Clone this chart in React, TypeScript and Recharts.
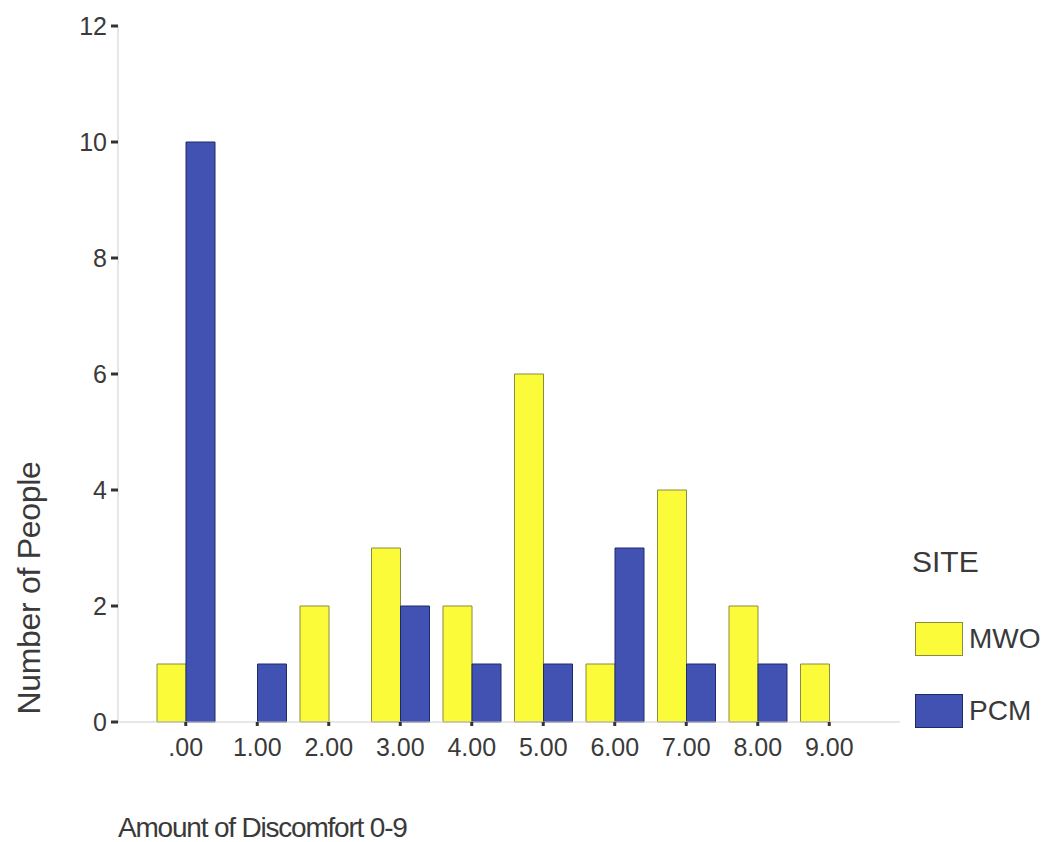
import { BarChart, Bar, XAxis, YAxis } from "recharts"

const categories = [".00", "1.00", "2.00", "3.00", "4.00", "5.00", "6.00", "7.00", "8.00", "9.00"]
const mwoValues = [1, 0, 2, 3, 2, 6, 1, 4, 2, 1]
const pcmValues = [10, 1, 0, 2, 1, 1, 3, 1, 1, 0]
const yTicks = [0, 2, 4, 6, 8, 10, 12]
const seriesNames = ["MWO", "PCM"]
const seriesColors = ["#fbfb3a", "#4152b2"]
const seriesStrokes = ["#8a8a40", "#1f2a6a"]

const data = categories.map((c, i) => ({ cat: c, MWO: mwoValues[i], PCM: pcmValues[i] }))

const FONT = "'Liberation Sans', Arial, sans-serif"
const TEXT = "#3a3a3a"
const FRAME = "#cfcfcf"

export default function App() {
  return (
    <div style={{ position: "absolute", left: 0, top: 0, width: 1043, height: 842, background: "#fff" }}>
      <BarChart
        width={1043}
        height={842}
        data={data}
        margin={{ top: 26, right: 143, bottom: 60, left: 48 }}
        barGap={0}
        barSize={29}
      >
        <XAxis
          dataKey="cat"
          xAxisId="bottom"
          padding={{ left: 32, right: 35 }}
          axisLine={{ stroke: FRAME }}
          tickLine={{ stroke: "#333", strokeWidth: 3 }}
          tickSize={4}
          tickMargin={12}
          tick={{ fill: TEXT, fontSize: 25, fontFamily: FONT }}
          height={60}
          interval={0}
        />
        <XAxis xAxisId="top" orientation="top" dataKey="cat" tick={false} tickLine={false} axisLine={{ stroke: FRAME }} height={0} />
        <YAxis
          yAxisId="left"
          domain={[0, 12]}
          ticks={yTicks}
          axisLine={{ stroke: FRAME }}
          tickLine={{ stroke: "#333", strokeWidth: 3 }}
          tickSize={7}
          tickMargin={4}
          tick={{ fill: TEXT, fontSize: 25, fontFamily: FONT }}
          width={70}
        />
        <YAxis yAxisId="right" orientation="right" domain={[0, 12]} tick={false} tickLine={false} axisLine={{ stroke: FRAME }} width={0} />
        {seriesNames.map((name, i) => (
          <Bar
            key={name}
            dataKey={name}
            xAxisId="bottom"
            yAxisId="left"
            fill={seriesColors[i]}
            stroke={seriesStrokes[i]}
            strokeWidth={1}
            isAnimationActive={false}
          />
        ))}
      </BarChart>
      <div style={{ position: "absolute", left: 912, top: 545, fontFamily: FONT, color: TEXT }}>
        <div style={{ fontSize: 30, lineHeight: "34px", marginBottom: 43 }}>SITE</div>
        {seriesNames.map((name, i) => (
          <div key={name} style={{ display: "flex", alignItems: "center", height: 33, marginBottom: 39 }}>
            <span
              style={{
                display: "inline-block",
                width: 46,
                height: 32,
                marginLeft: 3,
                background: seriesColors[i],
                border: `1px solid ${seriesStrokes[i]}`,
                marginRight: 6,
              }}
            />
            <span style={{ fontSize: 28 }}>{name}</span>
          </div>
        ))}
      </div>
      <div
        style={{
          position: "absolute",
          left: 29,
          top: 588,
          transform: "translate(-50%, -50%) rotate(-90deg)",
          whiteSpace: "nowrap",
          fontFamily: FONT,
          fontSize: 32,
          letterSpacing: -0.3,
          color: TEXT,
        }}
      >
        Number of People
      </div>
      <div
        style={{
          position: "absolute",
          left: 118,
          top: 812,
          whiteSpace: "nowrap",
          fontFamily: FONT,
          fontSize: 28,
          letterSpacing: -1.2,
          color: TEXT,
        }}
      >
        Amount of Discomfort 0-9
      </div>
    </div>
  )
}
